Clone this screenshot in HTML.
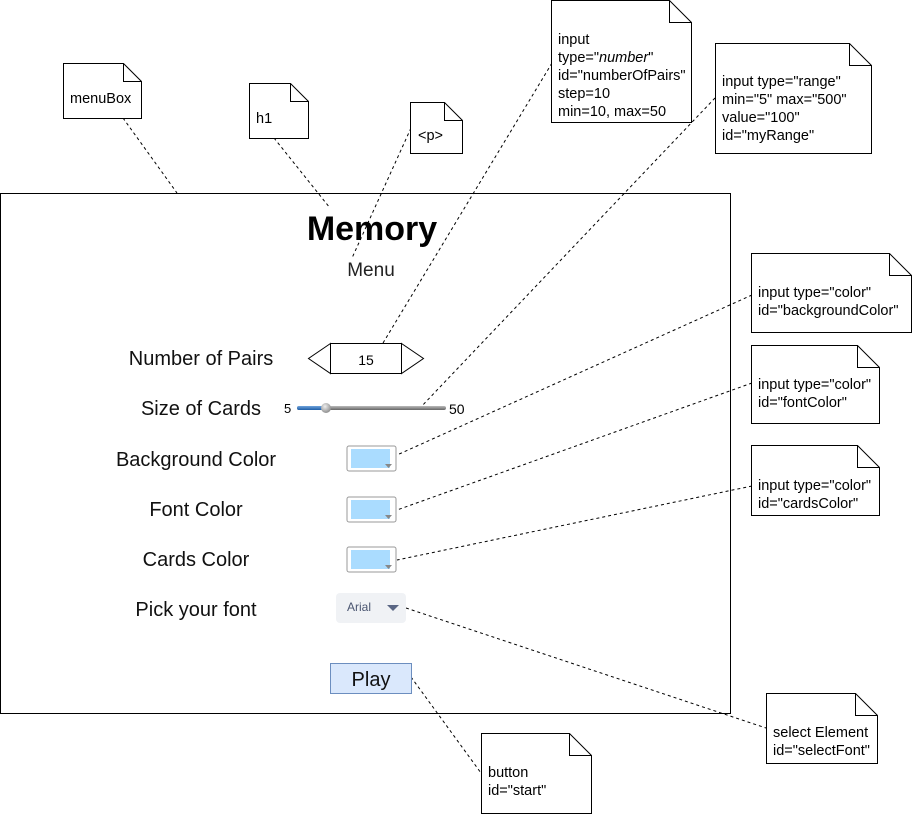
<!DOCTYPE html>
<html><head><meta charset="utf-8"><style>
html,body{margin:0;padding:0;background:#fff;width:912px;height:814px;overflow:hidden}
svg{display:block}
text{font-family:"Liberation Sans",Arial,sans-serif}
</style></head><body>
<svg width="912" height="814" viewBox="0 0 912 814" xmlns="http://www.w3.org/2000/svg">
<defs>
<linearGradient id="tr" x1="0" y1="0" x2="0" y2="1"><stop offset="0" stop-color="#bbb"/><stop offset="1" stop-color="#666"/></linearGradient>
<linearGradient id="bl" x1="0" y1="0" x2="0" y2="1"><stop offset="0" stop-color="#6fa3dc"/><stop offset="1" stop-color="#1f5fa8"/></linearGradient>
<radialGradient id="th" cx="0.4" cy="0.35" r="0.7"><stop offset="0" stop-color="#eee"/><stop offset="1" stop-color="#888"/></radialGradient>
</defs>
<g fill="none" stroke="#000" stroke-width="1">
<rect x="0.5" y="193.5" width="730" height="520"/>
</g>
<g stroke="#000" stroke-width="1" stroke-dasharray="3,3" fill="none">
<line x1="123" y1="118" x2="177" y2="193"/>
<line x1="274" y1="138" x2="330" y2="208"/>
<line x1="411" y1="128" x2="352" y2="258"/>
<line x1="552" y1="63" x2="383" y2="343"/>
<line x1="715" y1="98" x2="420" y2="408"/>
<line x1="752" y1="295" x2="397" y2="455"/>
<line x1="752" y1="383" x2="397" y2="510"/>
<line x1="752" y1="486" x2="397" y2="560"/>
<line x1="406" y1="608" x2="766" y2="728"/>
<line x1="411" y1="677" x2="481" y2="773"/>
</g>
<g fill="#fff" stroke="#000" stroke-width="1">
<path d="M63.5 63.5H123.5L141.5 81.5V118.5H63.5Z"/><path d="M123.5 63.5V81.5H141.5" fill="none"/>
<path d="M249.5 83.5H290.5L308.5 101.5V138.5H249.5Z"/><path d="M290.5 83.5V101.5H308.5" fill="none"/>
<path d="M410.5 102.5H444.5L462.5 120.5V153.5H410.5Z"/><path d="M444.5 102.5V120.5H462.5" fill="none"/>
<path d="M551.5 0.5H669.5L691.5 22.5V122.5H551.5Z"/><path d="M669.5 0.5V22.5H691.5" fill="none"/>
<path d="M715.5 43.5H849.5L871.5 65.5V153.5H715.5Z"/><path d="M849.5 43.5V65.5H871.5" fill="none"/>
<path d="M751.5 253.5H889.5L911.5 275.5V332.5H751.5Z"/><path d="M889.5 253.5V275.5H911.5" fill="none"/>
<path d="M751.5 345.5H857.5L879.5 367.5V423.5H751.5Z"/><path d="M857.5 345.5V367.5H879.5" fill="none"/>
<path d="M751.5 445.5H857.5L879.5 467.5V515.5H751.5Z"/><path d="M857.5 445.5V467.5H879.5" fill="none"/>
<path d="M766.5 693.5H855.5L877.5 715.5V763.5H766.5Z"/><path d="M855.5 693.5V715.5H877.5" fill="none"/>
<path d="M481.5 733.5H569.5L591.5 755.5V813.5H481.5Z"/><path d="M569.5 733.5V755.5H591.5" fill="none"/>
</g>
<g font-size="14.5" fill="#000">
<text x="70" y="103">menuBox</text>
<text x="256" y="123">h1</text>
<text x="418" y="140">&lt;p&gt;</text>
<text x="558" y="44">input</text>
<text x="558" y="62">type="<tspan font-style="italic">number</tspan>"</text>
<text x="558" y="80">id="numberOfPairs"</text>
<text x="558" y="98">step=10</text>
<text x="558" y="116">min=10, max=50</text>
<text x="722" y="86">input type="range"</text>
<text x="722" y="104">min="5" max="500"</text>
<text x="722" y="122">value="100"</text>
<text x="722" y="140">id="myRange"</text>
<text x="758" y="297">input type="color"</text>
<text x="758" y="315">id="backgroundColor"</text>
<text x="758" y="389">input type="color"</text>
<text x="758" y="407">id="fontColor"</text>
<text x="758" y="490">input type="color"</text>
<text x="758" y="508">id="cardsColor"</text>
<text x="773" y="737">select Element</text>
<text x="773" y="755">id="selectFont"</text>
<text x="488" y="777">button</text>
<text x="488" y="795">id="start"</text>
</g>
<text x="372" y="240" text-anchor="middle" font-size="34" font-weight="bold">Memory</text>
<text x="371" y="276" text-anchor="middle" font-size="19" fill="#222">Menu</text>
<g font-size="20" fill="#111" text-anchor="middle">
<text x="201" y="365">Number of Pairs</text>
<text x="201" y="415">Size of Cards</text>
<text x="196" y="466">Background Color</text>
<text x="196" y="516">Font Color</text>
<text x="196" y="566">Cards Color</text>
<text x="196" y="616">Pick your font</text>
</g>
<g fill="#fff" stroke="#000">
<path d="M330.5 343.5L308.5 358.5L330.5 373.5Z"/>
<path d="M401.5 343.5L423.5 358.5L401.5 373.5Z"/>
<rect x="330.5" y="343.5" width="71" height="30"/>
</g>
<text x="366" y="365" text-anchor="middle" font-size="14">15</text>
<text x="284" y="413" font-size="13">5</text>
<text x="449" y="414" font-size="14">50</text>
<rect x="297" y="406" width="149" height="4" rx="2" fill="url(#tr)"/>
<rect x="297" y="406" width="29" height="4" rx="2" fill="url(#bl)"/>
<circle cx="326" cy="408" r="5" fill="url(#th)"/>
<g>
<rect x="347" y="446" width="49" height="25" rx="2" fill="#fff" stroke="#999"/>
<rect x="351" y="449" width="39" height="19" fill="#aadcff"/>
<path d="M385 464H392L388.5 468Z" fill="#888"/>
<rect x="347" y="497" width="49" height="25" rx="2" fill="#fff" stroke="#999"/>
<rect x="351" y="500" width="39" height="19" fill="#aadcff"/>
<path d="M385 515H392L388.5 519Z" fill="#888"/>
<rect x="347" y="547" width="49" height="25" rx="2" fill="#fff" stroke="#999"/>
<rect x="351" y="550" width="39" height="19" fill="#aadcff"/>
<path d="M385 565H392L388.5 569Z" fill="#888"/>
</g>
<rect x="336" y="593" width="70" height="30" rx="4" fill="#f0f2f5"/>
<text x="347" y="611" font-size="12" fill="#4a5570">Arial</text>
<path d="M387 605H399L393 611Z" fill="#5a6684"/>
<rect x="330.5" y="663.5" width="81" height="30" fill="#dae8fc" stroke="#6c8ebf"/>
<text x="371" y="686" text-anchor="middle" font-size="20" fill="#111">Play</text>
</svg>
</body></html>
